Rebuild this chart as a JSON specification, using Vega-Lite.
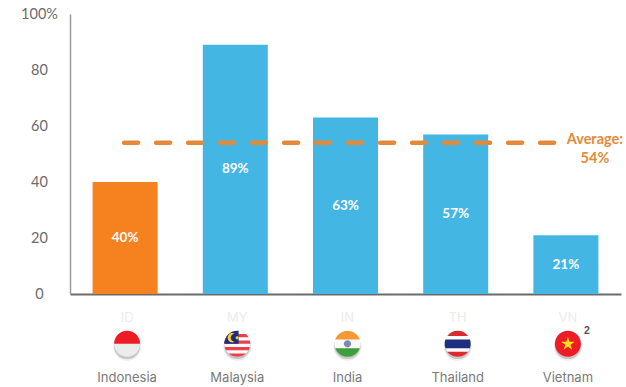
{
  "$schema": "https://vega.github.io/schema/vega-lite/v6.json",
  "width": 551,
  "height": 280,
  "autosize": "none",
  "padding": {"left": 70, "top": 14, "right": 5, "bottom": 93},
  "background": "white",
  "datasets": {
    "shares": [
      {"country": "Indonesia", "code": "ID", "share": 40, "label": "40%"},
      {"country": "Malaysia", "code": "MY", "share": 89, "label": "89%"},
      {"country": "India", "code": "IN", "share": 63, "label": "63%"},
      {"country": "Thailand", "code": "TH", "share": 57, "label": "57%"},
      {"country": "Vietnam", "code": "VN", "share": 21, "label": "21%"}
    ],
    "flags": [
      {"country": "Indonesia", "part": "pale disc"},
      {"country": "Indonesia", "part": "red upper half"},
      {"country": "Malaysia", "part": "white disc"},
      {"country": "Malaysia", "part": "red stripe 1"},
      {"country": "Malaysia", "part": "red stripe 2"},
      {"country": "Malaysia", "part": "red stripe 3"},
      {"country": "Malaysia", "part": "red stripe 4"},
      {"country": "Malaysia", "part": "navy canton"},
      {"country": "Malaysia", "part": "yellow crescent"},
      {"country": "Malaysia", "part": "yellow sun"},
      {"country": "India", "part": "white disc"},
      {"country": "India", "part": "saffron band"},
      {"country": "India", "part": "green band"},
      {"country": "India", "part": "blue wheel"},
      {"country": "Thailand", "part": "white disc"},
      {"country": "Thailand", "part": "red top band"},
      {"country": "Thailand", "part": "red bottom band"},
      {"country": "Thailand", "part": "navy middle band"},
      {"country": "Vietnam", "part": "red disc"},
      {"country": "Vietnam", "part": "yellow star"}
    ],
    "average": [
      {"from": "Indonesia", "to": "Vietnam", "average": 54}
    ],
    "note": [
      {"country": "Vietnam", "mark": "2"}
    ]
  },
  "encoding": {
    "x": {
      "field": "country",
      "type": "nominal",
      "sort": null,
      "scale": {
        "domain": ["Indonesia", "Malaysia", "India", "Thailand", "Vietnam"],
        "paddingInner": 0.41,
        "paddingOuter": 0.205
      },
      "title": null,
      "axis": {
        "domainColor": "#6b6b6b",
        "domainWidth": 2,
        "ticks": false,
        "labelAngle": 0,
        "labelPadding": 77,
        "labelOffset": 2,
        "labelFont": "Inter",
        "labelFontSize": 13,
        "labelColor": "#7a7a7a"
      }
    }
  },
  "layer": [
    {
      "data": {"name": "shares"},
      "mark": {"type": "bar"},
      "encoding": {
        "y": {
          "field": "share",
          "type": "quantitative",
          "scale": {"domain": [0, 100], "nice": false},
          "title": null,
          "axis": {
            "values": [0, 20, 40, 60, 80, 100],
            "grid": false,
            "ticks": false,
            "domainColor": "#9a9a9a",
            "domainWidth": 1.5,
            "labelAlign": "center",
            "labelPadding": 31,
            "labelFont": "Lato",
            "labelFontSize": 14.5,
            "labelColor": "#6b6b6b",
            "labelExpr": "datum.value === 100 ? '100%' : datum.label"
          }
        },
        "color": {
          "field": "country",
          "type": "nominal",
          "legend": null,
          "scale": {
            "domain": ["Indonesia", "Malaysia", "India", "Thailand", "Vietnam"],
            "range": ["#f5811f", "#43b6e4", "#43b6e4", "#43b6e4", "#43b6e4"]
          }
        }
      }
    },
    {
      "data": {"name": "average"},
      "mark": {
        "type": "rule",
        "color": "#e38a3a",
        "strokeWidth": 4.5,
        "strokeCap": "round",
        "strokeDash": [14, 18],
        "xOffset": -1,
        "x2Offset": -8
      },
      "encoding": {
        "x": {"field": "from", "type": "nominal", "sort": null},
        "x2": {"field": "to"},
        "y": {"field": "average", "type": "quantitative"}
      }
    },
    {
      "data": {"name": "average"},
      "mark": {
        "type": "text",
        "text": ["Average:", "54%"],
        "font": "Lato",
        "fontSize": 14.5,
        "fontWeight": "bold",
        "color": "#e38a3a",
        "align": "center",
        "baseline": "middle",
        "lineHeight": 19,
        "dx": 29,
        "dy": -3
      },
      "encoding": {
        "x": {"field": "to", "type": "nominal", "sort": null},
        "y": {"field": "average", "type": "quantitative"}
      }
    },
    {
      "data": {"name": "shares"},
      "transform": [{"calculate": "datum.share / 2", "as": "middle"}],
      "mark": {
        "type": "text",
        "font": "Lato",
        "fontSize": 13.5,
        "fontWeight": "bold",
        "color": "white",
        "align": "center",
        "baseline": "middle"
      },
      "encoding": {
        "y": {"field": "middle", "type": "quantitative"},
        "text": {"field": "label"}
      }
    },
    {
      "data": {"name": "shares"},
      "mark": {
        "type": "text",
        "font": "Inter",
        "fontSize": 13,
        "color": "#ececec",
        "align": "center",
        "baseline": "middle",
        "dx": 2
      },
      "encoding": {
        "y": {"datum": -8.6},
        "text": {"field": "code"}
      }
    },
    {
      "data": {"name": "shares"},
      "mark": {"type": "point", "shape": "circle", "filled": true, "size": 780, "color": "#9a9a9a", "opacity": 0.18, "strokeWidth": 0, "xOffset": 2, "yOffset": 3},
      "encoding": {"y": {"datum": -17.8}}
    },
    {
      "data": {"name": "shares"},
      "mark": {"type": "point", "shape": "circle", "filled": true, "size": 690, "color": "#7a7a7a", "opacity": 0.35, "strokeWidth": 0, "xOffset": 2, "yOffset": 2},
      "encoding": {"y": {"datum": -17.8}}
    },
    {
      "data": {"name": "flags"},
      "mark": {"type": "point", "filled": true, "size": 676, "opacity": 1, "strokeWidth": 0, "xOffset": 2},
      "encoding": {
        "y": {"datum": -17.8},
        "color": {
          "field": "part",
          "type": "nominal",
          "legend": null,
          "scale": {
            "domain": ["pale disc", "red upper half", "white disc", "red stripe 1", "red stripe 2", "red stripe 3", "red stripe 4", "navy canton", "yellow crescent", "yellow sun", "saffron band", "green band", "blue wheel", "red top band", "red bottom band", "navy middle band", "red disc", "yellow star"],
            "range": ["#ececec", "#ee1c25", "#fafafa", "#e8414a", "#e8414a", "#e8414a", "#e8414a", "#1d2c7c", "#f6d32d", "#f6d32d", "#f39a34", "#3f9e3c", "#8088bb", "#dc2a30", "#dc2a30", "#1f2f80", "#ee1c25", "#fce21b"]
          }
        },
        "shape": {
          "field": "part",
          "type": "nominal",
          "legend": null,
          "scale": {
            "domain": ["pale disc", "red upper half", "white disc", "red stripe 1", "red stripe 2", "red stripe 3", "red stripe 4", "navy canton", "yellow crescent", "yellow sun", "saffron band", "green band", "blue wheel", "red top band", "red bottom band", "navy middle band", "red disc", "yellow star"],
            "range": [
              "M -1 0 A 1 1 0 1 1 1 0 A 1 1 0 1 1 -1 0 Z",
              "M -1 0 A 1 1 0 0 1 1 0 Z",
              "M -1 0 A 1 1 0 1 1 1 0 A 1 1 0 1 1 -1 0 Z",
              "M -0.661 -0.75 L 0.661 -0.75 A 1 1 0 0 1 0.866 -0.5 L -0.866 -0.5 A 1 1 0 0 1 -0.661 -0.75 Z",
              "M -0.968 -0.25 L 0.968 -0.25 A 1 1 0 0 1 1 0 L -1 0 A 1 1 0 0 1 -0.968 -0.25 Z",
              "M -0.968 0.25 L 0.968 0.25 A 1 1 0 0 1 0.866 0.5 L -0.866 0.5 A 1 1 0 0 1 -0.968 0.25 Z",
              "M -0.661 0.75 L 0.661 0.75 A 1 1 0 0 1 0 1 A 1 1 0 0 1 -0.661 0.75 Z",
              "M -1 0 A 1 1 0 0 1 0.1 -0.995 L 0.1 0 Z",
              "M -0.2 -0.78 A 0.36 0.36 0 1 0 -0.2 -0.16 A 0.3 0.3 0 1 1 -0.2 -0.78 Z",
              "M -0.13 -0.47 A 0.12 0.12 0 1 1 0.11 -0.47 A 0.12 0.12 0 1 1 -0.13 -0.47 Z",
              "M 0 -1 A 1 1 0 0 1 0.944 -0.33 L -0.944 -0.33 A 1 1 0 0 1 0 -1 Z",
              "M -0.944 0.33 L 0.944 0.33 A 1 1 0 0 1 0 1 A 1 1 0 0 1 -0.944 0.33 Z",
              "M -0.28 0 A 0.28 0.28 0 1 1 0.28 0 A 0.28 0.28 0 1 1 -0.28 0 Z",
              "M 0 -1 A 1 1 0 0 1 0.8 -0.6 L -0.8 -0.6 A 1 1 0 0 1 0 -1 Z",
              "M -0.8 0.6 L 0.8 0.6 A 1 1 0 0 1 0 1 A 1 1 0 0 1 -0.8 0.6 Z",
              "M -0.944 -0.33 L 0.944 -0.33 A 1 1 0 0 1 0.944 0.33 L -0.944 0.33 A 1 1 0 0 1 -0.944 -0.33 Z",
              "M -1 0 A 1 1 0 1 1 1 0 A 1 1 0 1 1 -1 0 Z",
              "M 0 -0.55 L 0.123 -0.17 L 0.523 -0.17 L 0.2 0.065 L 0.323 0.445 L 0 0.21 L -0.323 0.445 L -0.2 0.065 L -0.523 -0.17 L -0.123 -0.17 Z"
            ]
          }
        }
      }
    },
    {
      "data": {"name": "note"},
      "mark": {
        "type": "text",
        "font": "Liberation Sans",
        "fontSize": 10.5,
        "fontWeight": "bold",
        "color": "#555555",
        "align": "center",
        "baseline": "middle",
        "dx": 21
      },
      "encoding": {
        "y": {"datum": -13.3},
        "text": {"field": "mark"}
      }
    }
  ],
  "resolve": {"scale": {"color": "independent"}},
  "config": {"view": {"stroke": null}}
}
